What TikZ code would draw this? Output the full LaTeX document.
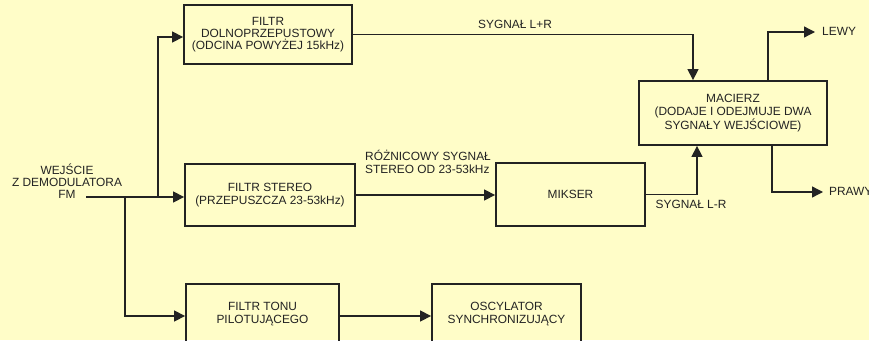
\documentclass[tikz,border=0pt]{standalone}
\usepackage{fontspec}
\setmainfont{Liberation Sans}
\usetikzlibrary{arrows.meta}
\definecolor{bgc}{RGB}{255,253,200}
\definecolor{ink}{RGB}{35,35,35}
\begin{document}
\begin{tikzpicture}[x=1pt,y=-1pt,
  txt/.style={font=\fontsize{11.9}{12.3}\selectfont, text=ink},
  blk/.style={txt, draw=ink, line width=1.8pt, align=center, inner sep=0pt},
  conn/.style={line width=1.3pt, draw=ink},
  arr/.style={conn, -{Triangle[length=11pt,width=11pt]}},
  lbl/.style={txt, inner sep=0pt, align=center}]
\fill[bgc] (0,0) rectangle (869,340);
\useasboundingbox (0,0) rectangle (869,340);
% blocks
\node[blk, minimum width=168pt, minimum height=59pt] (lp) at (268,34.5) {FILTR\\DOLNOPRZEPUSTOWY\\(ODCINA POWYŻEJ 15kHz)};
\node[blk, minimum width=170pt, minimum height=62pt] (st) at (270,195) {FILTR STEREO\\(PRZEPUSZCZA 23-53kHz)};
\node[blk, minimum width=153pt, minimum height=60pt] (pil) at (262.5,314) {FILTR TONU\\PILOTUJĄCEGO};
\node[blk, minimum width=149pt, minimum height=60pt] (osc) at (506.5,314) {OSCYLATOR\\SYNCHRONIZUJĄCY};
\node[blk, minimum width=149pt, minimum height=63pt] (mik) at (570.5,194.5) {MIKSER};
\node[blk, minimum width=188pt, minimum height=64pt] (mac) at (733,113) {MACIERZ\\(DODAJE I ODEJMUJE DWA\\SYGNAŁY WEJŚCIOWE)};
% input text
\node[lbl] (inp) at (67,181) {WEJŚCIE\\Z DEMODULATORA\\FM};
\coordinate (src) at (86,197);
\coordinate (j1) at (125,197);
\coordinate (j2) at (158,197);
\coordinate (lewyend) at (815,32);
\coordinate (prawyend) at (823,192);
% connectors
\draw[arr] (src) -- (src -| st.west);
\draw[arr] (j2) |- ([yshift=-2.5pt]lp.west);
\draw[arr] (j1) |- ([yshift=-2pt]pil.west);
\draw[arr] ([yshift=-2pt]pil.east) -- ([yshift=-2pt]osc.west);
\draw[arr] (lp.east) -| ([xshift=-40pt]mac.north);
\draw[arr] (st.east) -- (st.east -| mik.west);
\draw[arr] (mik.east) -| ([xshift=-36pt]mac.south);
\draw[arr] ([xshift=35pt]mac.north) |- (lewyend);
\draw[arr] ([xshift=39pt]mac.south) |- (prawyend);
% labels
\node[lbl, anchor=base] (llr) at (515,28) {SYGNAŁ L+R};
\node[lbl, anchor=base west, align=left] (lroz) at (365,173) {RÓŻNICOWY SYGNAŁ\\STEREO OD 23-53kHz};
\node[lbl, anchor=base] (llmr) at (691,208) {SYGNAŁ L-R};
\node[lbl, anchor=base west] (llewy) at (822,35) {LEWY};
\node[lbl, anchor=base west] (lprawy) at (829,195) {PRAWY};
\end{tikzpicture}
\end{document}
